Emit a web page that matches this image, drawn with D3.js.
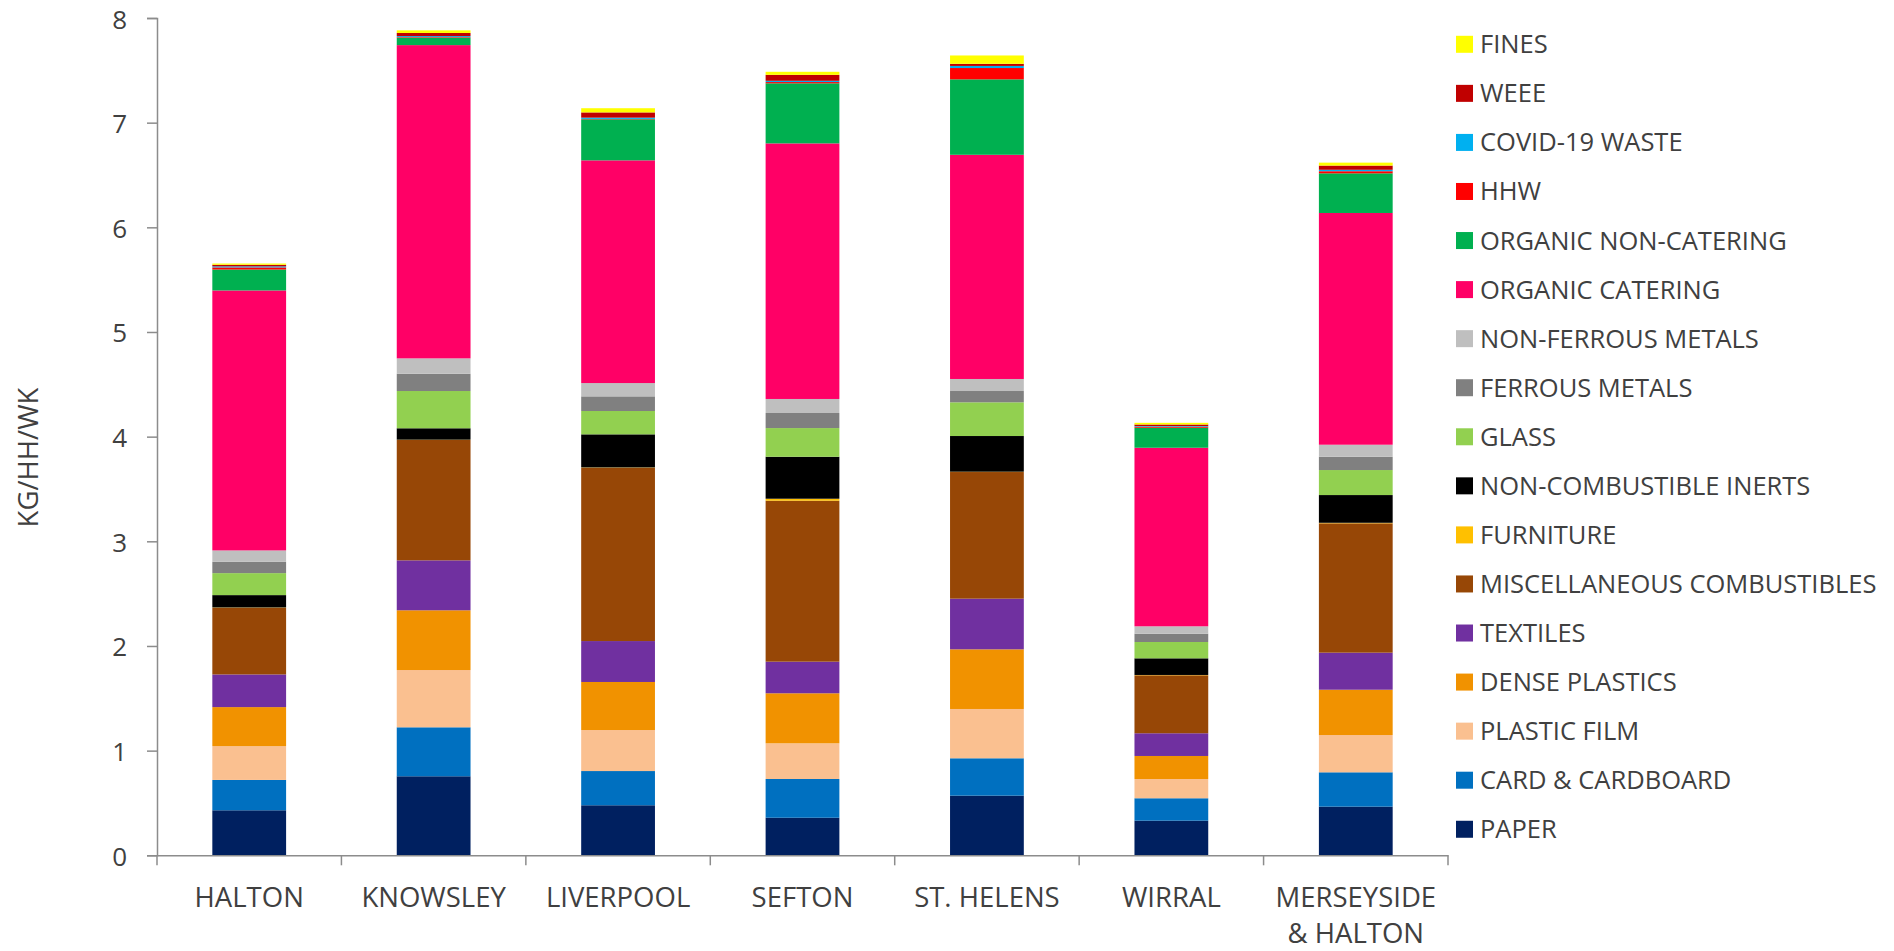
<!DOCTYPE html>
<html>
<head>
<meta charset="utf-8">
<script src="https://cdn.jsdelivr.net/npm/d3@7"></script>
<style>
  html, body { margin: 0; padding: 0; background: #ffffff; }
  svg { display: block; }
  text { font-family: "Open Sans", "Noto Sans", sans-serif; fill: #404040; }
</style>
</head>
<body>
<svg id="chart" width="1894" height="951"></svg>
<script>
// ---------- DATA ----------
const categories = ["HALTON", "KNOWSLEY", "LIVERPOOL", "SEFTON", "ST. HELENS", "WIRRAL", "MERSEYSIDE\n& HALTON"];

// series, bottom of stack first
const seriesNames = [
  "PAPER", "CARD & CARDBOARD", "PLASTIC FILM", "DENSE PLASTICS", "TEXTILES",
  "MISCELLANEOUS COMBUSTIBLES", "FURNITURE", "NON-COMBUSTIBLE INERTS", "GLASS",
  "FERROUS METALS", "NON-FERROUS METALS", "ORGANIC CATERING", "ORGANIC NON-CATERING",
  "HHW", "COVID-19 WASTE", "WEEE", "FINES"
];
const seriesColors = [
  "#002060", "#0070C0", "#FAC090", "#F19200", "#7030A0",
  "#974706", "#FFC000", "#000000", "#92D050",
  "#808080", "#BFBFBF", "#FF0066", "#00B050",
  "#FF0000", "#00B0F0", "#C00000", "#FFFF00"
];

const paper        = [0.430, 0.755, 0.478, 0.359, 0.570, 0.331, 0.465];
const card         = [0.290, 0.468, 0.327, 0.370, 0.357, 0.214, 0.328];
const plasticFilm  = [0.323, 0.547, 0.392, 0.341, 0.471, 0.184, 0.356];
const densePlastic = [0.373, 0.571, 0.459, 0.478, 0.570, 0.220, 0.433];
const textiles     = [0.312, 0.477, 0.391, 0.302, 0.484, 0.217, 0.354];
const miscComb     = [0.637, 1.150, 1.656, 1.538, 1.210, 0.554, 1.236];
const furniture    = [0.003, 0.003, 0.003, 0.019, 0.003, 0.003, 0.005];
const inerts       = [0.118, 0.109, 0.316, 0.401, 0.341, 0.159, 0.265];
const glass        = [0.210, 0.356, 0.223, 0.274, 0.322, 0.156, 0.239];
const ferrous      = [0.108, 0.165, 0.140, 0.144, 0.108, 0.079, 0.127];
const nonFerrous   = [0.109, 0.147, 0.127, 0.134, 0.115, 0.071, 0.115];
const orgCatering  = [2.484, 2.993, 2.128, 2.442, 2.142, 1.706, 2.214];
const orgNonCat    = [0.200, 0.070, 0.392, 0.574, 0.721, 0.191, 0.379];
const hhw          = [0.020, 0.006, 0.004, 0.012, 0.108, 0.010, 0.020];
const covid        = [0.010, 0.010, 0.012, 0.012, 0.020, 0.006, 0.014];
const weee         = [0.015, 0.030, 0.050, 0.057, 0.020, 0.015, 0.040];
const fines        = [0.012, 0.025, 0.040, 0.029, 0.080, 0.016, 0.028];

const seriesValues = [paper, card, plasticFilm, densePlastic, textiles, miscComb, furniture,
  inerts, glass, ferrous, nonFerrous, orgCatering, orgNonCat, hhw, covid, weee, fines];

const yTicks = [0, 1, 2, 3, 4, 5, 6, 7, 8];
const yTitle = "KG/HH/WK";

// ---------- BUILD TABLE ----------
const table = categories.map((c, i) => {
  const row = { category: c };
  seriesNames.forEach((s, k) => { row[s] = seriesValues[k][i]; });
  return row;
});
const colorOf = d3.scaleOrdinal().domain(seriesNames).range(seriesColors);
const stacked = d3.stack().keys(seriesNames)(table);

// ---------- LAYOUT ----------
const svg = d3.select("#chart");
const plot = { left: 157, right: 1448, top: 18, bottom: 855.3 };

const x = d3.scaleBand().domain(categories).range([plot.left, plot.right])
  .paddingInner(0.6).paddingOuter(0.3);
const y = d3.scaleLinear().domain([0, 8]).range([plot.bottom, plot.top]);

// bars
svg.append("g").selectAll("g").data(stacked).join("g")
  .attr("fill", d => colorOf(d.key))
  .selectAll("rect").data(d => d).join("rect")
  .attr("x", d => x(d.data.category))
  .attr("width", x.bandwidth())
  .attr("y", d => y(d[1]))
  .attr("height", d => Math.max(0, y(d[0]) - y(d[1])));

// y axis
const yAxis = svg.append("g").attr("transform", `translate(${plot.left},0)`)
  .call(d3.axisLeft(y).tickValues(yTicks).tickFormat(d3.format("d")).tickSize(10).tickPadding(20));
yAxis.select(".domain").attr("stroke", "#8c8c8c").attr("stroke-width", 1.5);
yAxis.selectAll(".tick line").attr("stroke", "#8c8c8c").attr("stroke-width", 1.5);
yAxis.selectAll(".tick text").attr("font-size", 26).attr("fill", "#404040")
  .attr("dy", 10)
  .attr("font-family", "'Open Sans', sans-serif");

// x axis
const xAxis = svg.append("g").attr("transform", `translate(0,${plot.bottom})`)
  .call(d3.axisBottom(x).tickSize(0).tickFormat(""));
xAxis.select(".domain").attr("stroke", "#8c8c8c").attr("stroke-width", 1.5);
// boundary ticks between categories
const step = x.step();
const boundaries = d3.range(categories.length + 1).map(i => plot.left + i * step);
xAxis.selectAll(".bound").data(boundaries).join("line")
  .attr("class", "bound")
  .attr("x1", d => d).attr("x2", d => d)
  .attr("y1", 0).attr("y2", 10)
  .attr("stroke", "#8c8c8c").attr("stroke-width", 1.5);

// x labels
const xl = svg.append("g").selectAll("text").data(categories).join("text")
  .attr("text-anchor", "middle")
  .attr("font-size", 27.5)
  .attr("x", d => x(d) + x.bandwidth() / 2)
  .attr("y", 906.5);
xl.each(function(d) {
  const lines = d.split("\n");
  const t = d3.select(this);
  lines.forEach((ln, i) => {
    t.append("tspan").attr("x", x(d) + x.bandwidth() / 2).attr("dy", i === 0 ? 0 : 36.5).text(ln);
  });
});

// y title
svg.append("text")
  .attr("transform", `translate(38,457.5) rotate(-90)`)
  .attr("text-anchor", "middle")
  .attr("font-size", 27.5)
  .text(yTitle);

// legend (top item = last series)
const legendItems = seriesNames.slice().reverse();
const lg = svg.append("g").selectAll("g").data(legendItems).join("g")
  .attr("transform", (d, i) => `translate(1456,${44.3 + i * 49.06})`);
lg.append("rect").attr("x", 0).attr("y", -8.5).attr("width", 17).attr("height", 17)
  .attr("fill", d => colorOf(d));
lg.append("text").attr("x", 24).attr("y", 9).attr("font-size", 25.5).text(d => d);
</script>
</body>
</html>
